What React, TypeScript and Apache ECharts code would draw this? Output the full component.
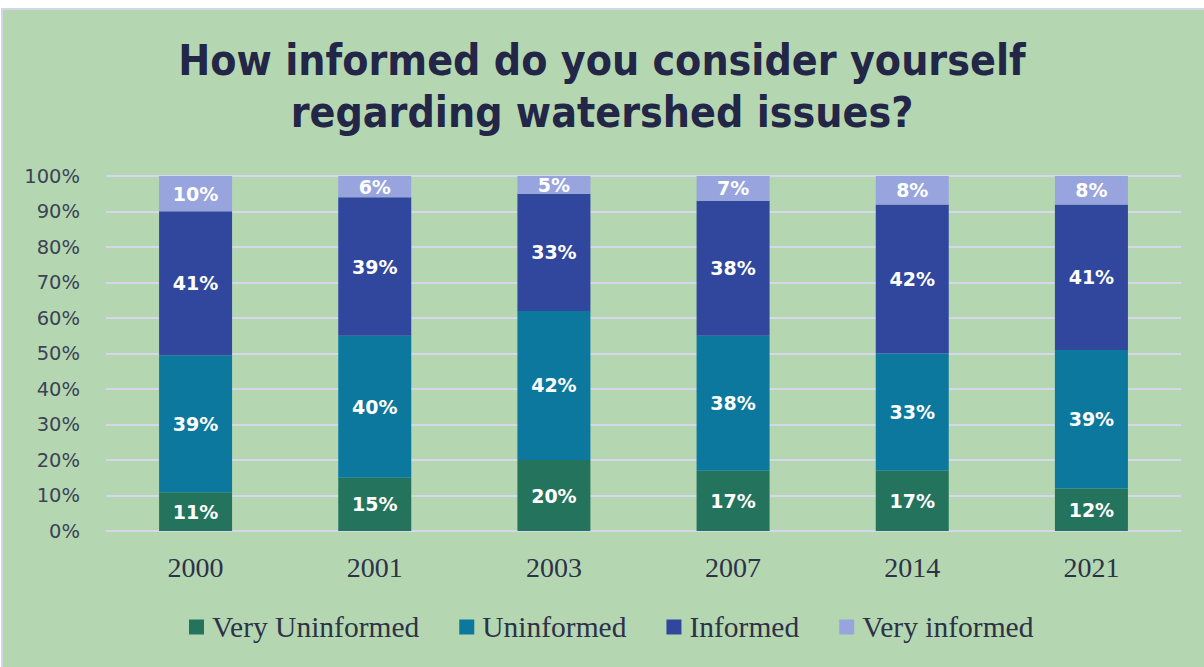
import React, { useEffect, useRef } from "react";
import * as echarts from "echarts";

const categories = ["2000", "2001", "2003", "2007", "2014", "2021"];
const seriesNames = ["Very Uninformed", "Uninformed", "Informed", "Very informed"];
const veryUninformed = [11, 15, 20, 17, 17, 12];
const uninformed = [39, 40, 42, 38, 33, 39];
const informed = [41, 39, 33, 38, 42, 41];
const veryInformed = [10, 6, 5, 7, 8, 8];
const yTicks = [0, 10, 20, 30, 40, 50, 60, 70, 80, 90, 100];
const titleLines = ["How informed do you consider yourself", "regarding watershed issues?"];

const colors = ["#24735d", "#0c789d", "#30479d", "#97a4de"];

export default function App() {
  const ref = useRef<HTMLDivElement>(null);
  useEffect(() => {
    if (!ref.current) return;
    const chart = echarts.init(ref.current, undefined, { renderer: "svg" });
    const raw = [veryUninformed, uninformed, informed, veryInformed];
    const totals = categories.map((_, i) => raw.reduce((s, arr) => s + arr[i], 0));
    const series = raw.map((arr, si) => ({
      name: seriesNames[si],
      type: "bar",
      stack: "total",
      barWidth: 73,
      itemStyle: { color: colors[si] },
      label: {
        show: true,
        position: "inside",
        color: "#ffffff",
        fontFamily: "DejaVu Sans",
        fontWeight: "bold",
        fontSize: 19,
        formatter: (p: any) => arr[p.dataIndex] + "%",
      },
      data: arr.map((v, i) => (v / totals[i]) * 100),
    }));
    chart.setOption({
      animation: false,
      title: titleLines.map((t, i) => ({
        text: t,
        left: "center",
        top: 37 + i * 52,
        padding: 0,
        textStyle: {
          fontFamily: "'DejaVu Sans Condensed'",
          fontWeight: "bold",
          fontSize: 42.5,
          lineHeight: 46,
          color: "#232646",
        },
      })),
      legend: {
        left: 189,
        top: 612,
        padding: 0,
        itemWidth: 15,
        itemHeight: 15,
        itemGap: 40,
        icon: "rect",
        textStyle: {
          fontFamily: "Liberation Serif",
          fontSize: 29.5,
          color: "#2e3148",
          padding: [0, 0, 0, 3],
        },
        data: seriesNames,
      },
      grid: { left: 106, right: 23, top: 176, bottom: 136, containLabel: false },
      xAxis: {
        type: "category",
        data: categories,
        axisLine: { show: false },
        axisTick: { show: false },
        axisLabel: {
          margin: 22,
          fontFamily: "Liberation Serif",
          fontSize: 28,
          color: "#2e3248",
        },
      },
      yAxis: {
        type: "value",
        min: yTicks[0],
        max: yTicks[yTicks.length - 1],
        interval: 10,
        axisLine: { show: false },
        axisTick: { show: false },
        splitLine: { lineStyle: { color: "#d5d7ea", width: 2 } },
        axisLabel: {
          margin: 26,
          fontFamily: "DejaVu Sans",
          fontSize: 19.5,
          color: "#3d4256",
          formatter: "{value}%",
        },
      },
      series,
    });
    return () => chart.dispose();
  }, []);
  return (
    <div style={{ position: "absolute", left: 0, top: 0, width: 1204, height: 667, background: "#ffffff", overflow: "hidden" }}>
      <div
        style={{
          position: "absolute",
          left: 1,
          top: 8,
          width: 1220,
          height: 680,
          background: "#b4d7b2",
          borderLeft: "2px solid #d3d6e6",
          borderTop: "2px solid #d3d6e6",
        }}
      />
      <div ref={ref} style={{ position: "absolute", left: 0, top: 0, width: 1204, height: 667 }} />
    </div>
  );
}
